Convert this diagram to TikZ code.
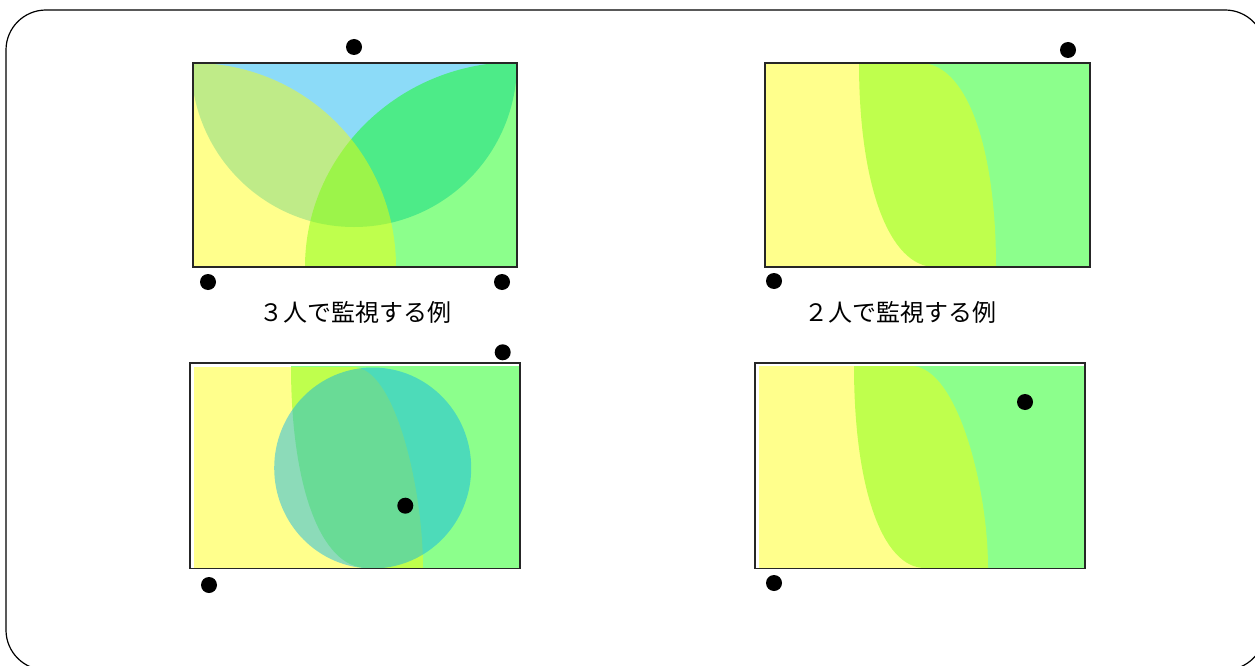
\documentclass[tikz,border=0pt]{standalone}
\usepackage{fontspec}
\newfontfamily\jpfont{Noto Sans CJK JP}
\definecolor{cyel}{HTML}{FFFF00}
\definecolor{cgrn}{HTML}{00FF00}
\definecolor{cblu}{HTML}{00B0F0}
\tikzset{
  dot/.style={circle,fill=black,minimum size=16pt,inner sep=0pt},
  yelzone/.style={fill=cyel,fill opacity=0.45},
  grnzone/.style={fill=cgrn,fill opacity=0.45},
  bluzone/.style={fill=cblu,fill opacity=0.45},
  frame/.style={draw=black!85,line width=1.3pt},
  caption/.style={font=\jpfont\fontsize{24}{28}\selectfont,inner sep=0pt}
}
\begin{document}
\begin{tikzpicture}[x=1pt,y=-1pt]
\useasboundingbox (0,0) rectangle (1255,666);
\draw[line width=1.2pt,rounded corners=40pt] (6,10) rectangle (1265,670);

% ---------- panel A: three observers ----------
\begin{scope}
\clip (193,63) rectangle (517,267);
\fill[bluzone] (354,63) ellipse [x radius=163pt, y radius=164pt];
\fill[grnzone] (517,267) ellipse [x radius=212pt, y radius=205pt];
\fill[yelzone] (193,267) ellipse [x radius=203pt, y radius=204pt];
\end{scope}
\draw[frame] (193,63) rectangle (517,267);
\node[dot] (a1) at (354,47) {};
\node[dot] (a2) at (208,282) {};
\node[dot] (a3) at (502,282) {};
\node[caption] (capA) at (355,312) {３人で監視する例};

% ---------- panel B: two observers ----------
\fill[grnzone] (859,63) .. controls (859,185) and (889,267) .. (935,267)
  -- (1090,267) -- (1090,63) -- cycle;
\fill[yelzone] (765,63) -- (920,63) .. controls (966,63) and (996,145) .. (996,267)
  -- (765,267) -- cycle;
\draw[frame] (765,63) rectangle (1090,267);
\node[dot] (b1) at (1068,50) {};
\node[dot] (b2) at (774,281) {};
\node[caption] (capB) at (900,312) {２人で監視する例};

% ---------- panel C: two observers, one inside ----------
\fill[grnzone] (291,366) .. controls (291,487) and (321,568) .. (367,568)
  -- (519,568) -- (519,366) -- cycle;
\fill[yelzone] (194,367) -- (353,367) .. controls (395,367) and (423,488) .. (423,568)
  -- (194,568) -- cycle;
\fill[bluzone] (372.7,468) ellipse [x radius=98.5pt, y radius=100.5pt];
\draw[frame] (190,363) rectangle (520,568.5);
\node[dot] (c1) at (502.7,352.3) {};
\node[dot] (c2) at (405.3,505.7) {};
\node[dot] (c3) at (209,585) {};

% ---------- panel D: two observers, one inside ----------
\fill[grnzone] (854,366) .. controls (854,487) and (882,568) .. (925,568)
  -- (1084,568) -- (1084,366) -- cycle;
\fill[yelzone] (759,366) -- (911,366) .. controls (957,366) and (988,487) .. (988,568)
  -- (759,568) -- cycle;
\draw[frame] (755,363) rectangle (1085,568.3);
\node[dot] (d1) at (1025,402) {};
\node[dot] (d2) at (774,583) {};
\end{tikzpicture}
\end{document}
